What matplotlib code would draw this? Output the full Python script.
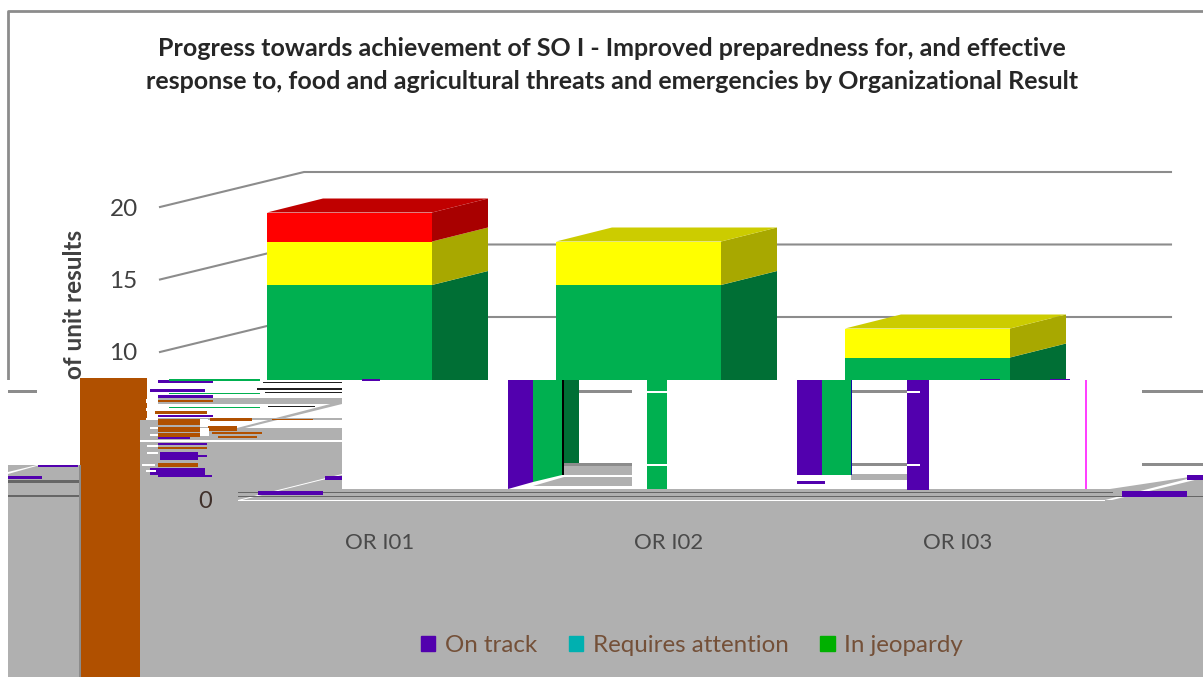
import numpy as np
from matplotlib import pyplot as plt
from matplotlib.patches import Patch, Polygon, Rectangle

plt.rcParams['font.family'] = ['Lato', 'DejaVu Sans']

# chart values
CATEGORIES  = ['OR I01', 'OR I02', 'OR I03']
SERIES      = ['On track', 'Requires attention', 'In jeopardy']
ON_TRACK    = [14, 14, 9]
ATTENTION   = [3, 3, 2]
JEOPARDY    = [2, 0, 0]
Y_TICKS     = [0, 5, 10, 15, 20]
TITLE       = ('Progress towards achievement of SO I - Improved preparedness for, and effective\n'
               'response to, food and agricultural threats and emergencies by Organizational Result')
Y_LABEL     = 'of unit results'

# colours of the bars: front, side, top
FACES       = [('#00B050', '#006F35', '#008A40'),
               ('#FFFF00', '#A8A800', '#CCCC00'),
               ('#FF0000', '#A80000', '#C00000')]
# the legend swatches came out in other colours in the picture
LEGEND_COL  = ['#5200AE', '#00B0B0', '#00B000']

GRAY        = '#B0B0B0'
PURPLE      = '#5200AE'
BROWN       = '#B05000'
GREEN       = '#00B050'
DARKGREEN   = '#006F35'
GRID        = '#8C8C8C'
BLACK       = '#202020'

W, H        = 1203, 677
UNIT_X      = 289.0     # pixels per category
UNIT_Y      = 14.5      # pixels per unit result
BACK_DX     = 144 / UNIT_X
BACK_DY     = 35 / UNIT_Y
SHIFT_X     = 107 / UNIT_X
SHIFT_Y     = 9 / UNIT_Y
BAR_W       = 165 / UNIT_X
DEPTH_X     = 56 / UNIT_X
DEPTH_Y     = 14 / UNIT_Y


def axes_rect(left, bottom_y, width, height):
    return [left / W, (H - bottom_y) / H, width / W, height / H]


def draw_chart(ax):
    ax.set_xlim(0, len(CATEGORIES))
    ax.set_ylim(0, 20)
    for s in ax.spines.values():
        s.set_visible(False)
    ax.patch.set_alpha(0)
    ax.set_xticks([])
    ax.set_yticks(Y_TICKS)
    ax.tick_params(axis='y', length=0, pad=16, labelsize=17.5, labelcolor='#404040')

    for v in Y_TICKS:
        ax.plot([0, BACK_DX, len(CATEGORIES) + BACK_DX], [v, v + BACK_DY, v + BACK_DY],
                color=GRID, lw=1.5, clip_on=False, zorder=1)

    for i in range(len(CATEGORIES)):
        bottom = SHIFT_Y
        left = i + SHIFT_X
        right = left + BAR_W
        top_colour = None
        for values, faces in zip((ON_TRACK, ATTENTION, JEOPARDY), FACES):
            v = values[i]
            if v == 0:
                continue
            ax.bar(left, v, width=BAR_W, bottom=bottom, align='edge', color=faces[0], zorder=3)
            side = [(right, bottom), (right + DEPTH_X, bottom + DEPTH_Y),
                    (right + DEPTH_X, bottom + v + DEPTH_Y), (right, bottom + v)]
            ax.add_patch(Polygon(side, closed=True, fc=faces[1], ec='none', zorder=3, clip_on=False))
            bottom += v
            top_colour = faces[2]
        top = [(left, bottom), (right, bottom), (right + DEPTH_X, bottom + DEPTH_Y),
               (left + DEPTH_X, bottom + DEPTH_Y)]
        ax.add_patch(Polygon(top, closed=True, fc=top_colour, ec='none', zorder=3, clip_on=False))


def rect(ax, x0, x1, y0, y1, colour, z=1):
    ax.add_patch(Rectangle((x0, y0), x1 - x0, y1 - y0, fc=colour, ec='none', zorder=z))


def draw_broken_band(ax):
    # the damaged lower part of the picture, in pixel coordinates
    ax.set_xlim(0, W)
    ax.set_ylim(H, 0)
    ax.axis('off')
    ax.plot([8, 8, W], [380, 11, 11], color='#8C8C8C', lw=2, solid_capstyle='butt', zorder=1)

    # white band over the bars and the grey ground
    rect(ax, 0, W, 380, 500, 'white')
    ax.add_patch(Polygon([(8, 465), (80, 465), (80, 380), (342, 380), (342, 489), (1110, 489),
                          (1203, 475), (1203, H), (8, H)], closed=True, fc=GRAY, ec='none', zorder=1))
    rect(ax, 147, 342, 380, 428, 'white', 1.2)
    rect(ax, 140, 208, 420, 441, GRAY, 1.2)
    rect(ax, 208, 342, 428, 440, GRAY, 1.2)
    rect(ax, 140, 342, 440, 441.5, 'white', 1.3)
    rect(ax, 158, 342, 398, 404, GRAY, 1.2)
    rect(ax, 158, 342, 417.5, 419.5, GRAY, 1.2)
    ax.add_patch(Polygon([(237, 428), (342, 401), (342, 404), (245, 428)], closed=True, fc=GRAY, ec='none', zorder=1.3))
    ax.add_patch(Polygon([(8, 472), (37, 465), (40, 465), (8, 474)], closed=True, fc='white', ec='none', zorder=1.3))
    ax.add_patch(Polygon([(238, 500), (342, 474), (342, 475), (242, 500)], closed=True, fc='white', ec='none', zorder=1.3))
    ax.add_patch(Polygon([(1086, 489), (1140, 476), (1142, 477), (1105, 489)], closed=True, fc='white', ec='none', zorder=1.3))
    ax.add_patch(Polygon([(1105, 500), (1203, 475), (1203, 478), (1112, 500)], closed=True, fc='white', ec='none', zorder=1.3))

    # gridlines seen through the holes
    for x0, x1 in [(8, 37), (564, 632), (852, 920), (1142, W)]:
        rect(ax, x0, x1, 390, 392.5, GRID, 1.4)
    for x0, x1 in [(564, 632), (852, 920), (1142, W)]:
        rect(ax, x0, x1, 463, 465.5, GRID, 1.4)

    # columns
    ax.add_patch(Polygon([(508, 380), (533, 380), (533, 482), (508, 489)], closed=True, fc=PURPLE, ec='none', zorder=2))
    ax.add_patch(Polygon([(533, 380), (562, 380), (562, 475), (533, 482)], closed=True, fc=GREEN, ec='none', zorder=2))
    rect(ax, 561.5, 564, 380, 475, 'black', 2.1)
    rect(ax, 564, 579, 380, 462.5, DARKGREEN, 2)
    rect(ax, 564, 632, 465.5, 475, GRAY, 2)
    ax.add_patch(Polygon([(533, 486), (564, 477), (632, 477), (632, 486)], closed=True, fc=GRAY, ec='none', zorder=2))
    rect(ax, 646.5, 667, 380, 489, GREEN, 2)
    rect(ax, 646.5, 667, 391, 392.5, 'white', 2.1)
    rect(ax, 646.5, 667, 464, 465.5, 'white', 2.1)
    rect(ax, 797, 822, 380, 475, PURPLE, 2)
    rect(ax, 822, 851, 380, 475, GREEN, 2)
    rect(ax, 850.5, 852, 380, 475, '#1010A0', 2.1)
    rect(ax, 797, 825, 480.5, 484, PURPLE, 2)
    rect(ax, 851, 920, 474, 480, GRAY, 2)
    rect(ax, 907, 929, 380, 490, PURPLE, 2)
    rect(ax, 907, 920, 391, 392.5, 'white', 2.1)
    rect(ax, 907, 920, 464, 465.5, 'white', 2.1)
    rect(ax, 1085, 1086.5, 380, 489, '#FF40FF', 2)

    # brown column
    rect(ax, 80, 147, 378, 420, BROWN, 2)
    rect(ax, 80, 140, 420, H, BROWN, 2)
    rect(ax, 79, 81, 465, H, '#8C8C8C', 2.1)

    # floor lines
    rect(ax, 238, 1113, 491.5, 493, '#666666', 2)
    rect(ax, 238, W, 495.5, 497, '#666666', 2)
    rect(ax, 238, 1105, 499.5, 501, 'white', 2)
    rect(ax, 8, 80, 480, 483, '#666666', 2)
    rect(ax, 8, 80, 495, 497, '#666666', 2)

    # torn streaks, one row of pixels repeated sideways
    streaks = [(158, 213, 380, 382.5, PURPLE), (169, 260, 379, 380.5, GREEN), (263, 342, 381.5, 383, BLACK),
               (150, 205, 389, 392, PURPLE), (257, 342, 388, 389.5, BLACK), (265, 342, 391.5, 393, BLACK),
               (169, 260, 392.5, 394, GREEN), (158, 213, 394.5, 397.5, PURPLE), (158, 213, 399.5, 402, BROWN),
               (169, 260, 406.5, 408, GREEN), (268, 315, 405.5, 407, BLACK), (155, 207, 411, 413.5, BROWN),
               (158, 213, 414.5, 416.5, PURPLE), (158, 200, 419, 425, BROWN), (210, 252, 418, 421, BROWN),
               (272, 313, 418.5, 419.5, BROWN), (208, 237, 426, 431, BROWN), (212, 262, 432, 433.5, BROWN),
               (218, 257, 436, 437.5, BROWN), (158, 200, 427, 432, BROWN), (158, 200, 433, 437, BROWN),
               (158, 190, 437, 439, PURPLE), (158, 207, 443, 445, PURPLE), (158, 207, 447, 449, BROWN),
               (160, 198, 452, 460, PURPLE), (198, 207, 455, 457, PURPLE), (158, 198, 463, 467, BROWN),
               (150, 205, 468, 475, PURPLE), (158, 212, 475, 477, PURPLE),
               (325, 342, 476, 480, PURPLE), (258, 323, 491, 495, PURPLE),
               (38, 78, 465, 466.5, PURPLE), (8, 42, 475.5, 479, PURPLE),
               (1122, 1187, 491, 497, PURPLE), (1187, 1203, 475, 480, PURPLE),
               (362, 380, 379, 381, PURPLE), (980, 1000, 379, 380, PURPLE), (1050, 1070, 379, 380, PURPLE)]
    for x0, x1, y0, y1, colour in streaks:
        rect(ax, x0, x1, y0, y1, colour, 2.2)
    for x0, x1, y0, y1 in [(146, 158, 399, 403), (146, 158, 408, 411), (146, 158, 418, 420),
                           (150, 158, 427, 429), (150, 158, 434, 436), (147, 158, 445, 447),
                           (147, 158, 452, 454), (142, 155, 464, 466), (146, 156, 470, 472),
                           (200, 208, 419, 427), (200, 209, 428, 436)]:
        rect(ax, x0, x1, y0, y1, 'white', 2.3)

    ax.text(205, 501, '0', ha='center', va='center', fontsize=17, color='#40302A', zorder=3)


def draw_labels(ax):
    # same scale as the chart, moved to where the labels ended up
    ax.set_xlim(0, len(CATEGORIES))
    ax.set_ylim(0, 1)
    ax.patch.set_alpha(0)
    for s in ax.spines.values():
        s.set_visible(False)
    ax.set_yticks([])
    ax.set_xticks(np.arange(len(CATEGORIES)) + 0.5)
    ax.set_xticklabels(CATEGORIES)
    ax.tick_params(axis='x', length=0, pad=26, labelsize=16, labelcolor='#4A4A4A')
    handles = [Patch(color=c, label=s) for c, s in zip(LEGEND_COL, SERIES)]
    ax.legend(handles=handles, loc='center', bbox_to_anchor=(0.527, -0.512), ncol=3, frameon=False,
              fontsize=17.4, labelcolor='#745038', handlelength=0.6, handleheight=0.6,
              handletextpad=0.4, columnspacing=1.3)


fig = plt.figure(figsize=(W / 100, H / 100), dpi=100)
fig.patch.set_facecolor('white')

chart = fig.add_axes(axes_rect(160, 497, 867, 290), zorder=1)
draw_chart(chart)

band = fig.add_axes([0, 0, 1, 1], zorder=2)
band.patch.set_alpha(0)
draw_broken_band(band)

labels = fig.add_axes(axes_rect(235, 497, 867, 290), zorder=3)
draw_labels(labels)

fig.text(612 / W, 1 - 65 / H, TITLE, ha='center', va='center', fontsize=18, fontweight='bold',
         color='#262626', linespacing=1.5, zorder=5)
fig.text(75 / W, 1 - 379 / H, Y_LABEL, rotation=90, ha='center', va='bottom', fontsize=17.5,
         fontweight='bold', color='#404040', zorder=5)

plt.savefig('out.png', dpi=100)
